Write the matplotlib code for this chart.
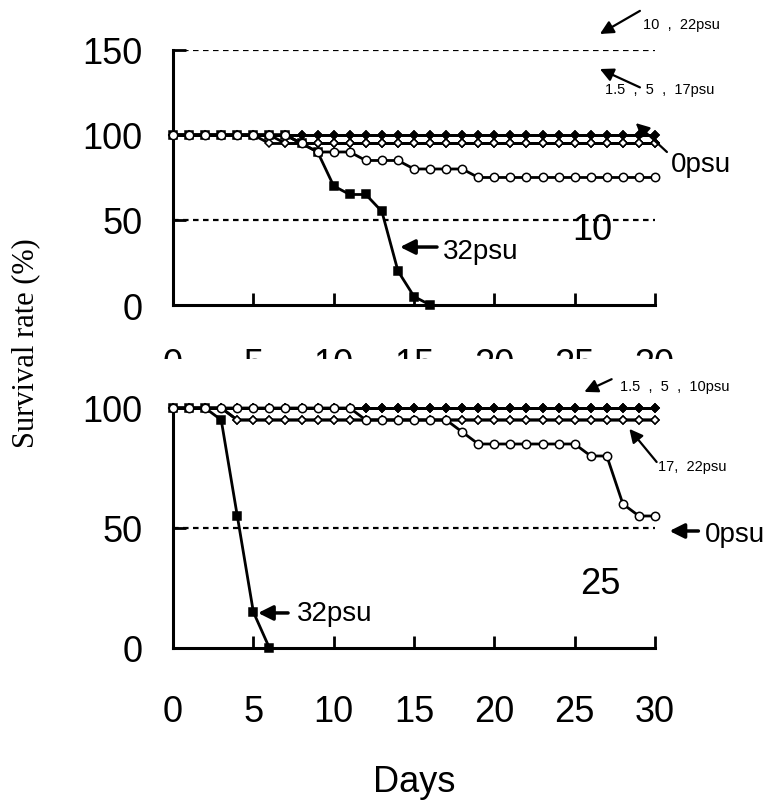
import matplotlib
matplotlib.use("Agg")
import matplotlib.pyplot as plt
from matplotlib.patches import Rectangle

# days of observation
days = list(range(31))

# 10 degC panel (survival %, one list per salinity)
top_0psu = [100, 100, 100, 100, 100, 100, 100, 100, 95, 90, 90, 90, 85, 85, 85,
            80, 80, 80, 80, 75, 75, 75, 75, 75, 75, 75, 75, 75, 75, 75, 75]
top_15psu = [100, 100, 100, 100, 100, 100, 95, 95, 95, 95, 95, 95, 95, 95, 95,
             95, 95, 95, 95, 95, 95, 95, 95, 95, 95, 95, 95, 95, 95, 95, 95]
top_5psu = [100, 100, 100, 100, 100, 100, 100, 95, 95, 95, 95, 95, 95, 95, 95,
            95, 95, 95, 95, 95, 95, 95, 95, 95, 95, 95, 95, 95, 95, 95, 95]
top_17psu = [100, 100, 100, 100, 100, 100, 100, 100, 95, 95, 95, 95, 95, 95, 95,
             95, 95, 95, 95, 95, 95, 95, 95, 95, 95, 95, 95, 95, 95, 95, 95]
top_10psu = [100, 100, 100, 100, 100, 100, 100, 100, 100, 100, 100, 100, 100, 100, 100,
             100, 100, 100, 100, 100, 100, 100, 100, 100, 100, 100, 100, 100, 100, 100, 100]
top_22psu = [100, 100, 100, 100, 100, 100, 100, 100, 100, 100, 100, 100, 100, 100, 100,
             100, 100, 100, 100, 100, 100, 100, 100, 100, 100, 100, 100, 100, 100, 100, 100]
top_32psu = [100, 100, 100, 100, 100, 100, 100, 100, 95, 90, 70, 65, 65, 55, 20, 5, 0]

# 25 degC panel
bot_0psu = [100, 100, 100, 100, 100, 100, 100, 100, 100, 100, 100, 100, 95, 95, 95,
            95, 95, 95, 90, 85, 85, 85, 85, 85, 85, 85, 80, 80, 60, 55, 55]
bot_15psu = [100, 100, 100, 100, 100, 100, 100, 100, 100, 100, 100, 100, 100, 100, 100,
             100, 100, 100, 100, 100, 100, 100, 100, 100, 100, 100, 100, 100, 100, 100, 100]
bot_5psu = bot_15psu
bot_10psu = bot_15psu
bot_17psu = [100, 100, 100, 100, 95, 95, 95, 95, 95, 95, 95, 95, 95, 95, 95,
             95, 95, 95, 95, 95, 95, 95, 95, 95, 95, 95, 95, 95, 95, 95, 95]
bot_22psu = bot_17psu
bot_32psu = [100, 100, 100, 95, 55, 15, 0]

SANS = ['Liberation Sans', 'DejaVu Sans']

fig = plt.figure(figsize=(7.68, 8.04), dpi=100)
ax1 = fig.add_axes([0.2253, 0.6194, 0.6276, 0.3172])
ax2 = fig.add_axes([0.2253, 0.1928, 0.6276, 0.2985])


def style(ax, ymax, yticks, xpad):
    ax.set_xlim(0, 30)
    ax.set_ylim(0, ymax)
    ax.set_xticks(range(0, 31, 5))
    ax.set_yticks(yticks)
    for s in ['top', 'right']:
        ax.spines[s].set_visible(False)
    for s in ['left', 'bottom']:
        ax.spines[s].set_linewidth(2.2)
    ax.tick_params(direction='in', length=9, width=2, labelsize=26)
    ax.tick_params(axis='y', pad=22)
    ax.tick_params(axis='x', pad=xpad)
    for lab in ax.get_xticklabels() + ax.get_yticklabels():
        lab.set_family(SANS)
    ax.patch.set_alpha(0)
    ax.axhline(50, color='black', lw=1.6, ls=(0, (2.5, 2)), zorder=1)


def curve(ax, y, kind):
    kinds = {
        'dfill': dict(marker='D', mfc='black', ms=4.5, zorder=2),
        'dopen': dict(marker='D', mfc='white', ms=4.5, zorder=3),
        'square': dict(marker='s', mfc='black', ms=5.5, zorder=4),
        'circle': dict(marker='o', mfc='white', ms=6, zorder=5),
    }
    ax.plot(days[:len(y)], y, color='black', lw=2, mec='black', mew=1.1,
            clip_on=False, **kinds[kind])


def arrow(ax, tail, head, lw=1.6, scale=20):
    ax.annotate('', xy=head, xytext=tail, annotation_clip=False,
                arrowprops=dict(arrowstyle='-|>', color='black', lw=lw,
                                mutation_scale=scale, shrinkA=0, shrinkB=0),
                zorder=8)


# ---- 10 degC ----
style(ax1, 150, [0, 50, 100, 150], 30)
ax1.axhline(150, color='black', lw=1.6, ls=(0, (2.5, 2)), zorder=1)
curve(ax1, top_10psu, 'dfill')
curve(ax1, top_22psu, 'dfill')
curve(ax1, top_15psu, 'dopen')
curve(ax1, top_5psu, 'dopen')
curve(ax1, top_17psu, 'dopen')
curve(ax1, top_32psu, 'square')
curve(ax1, top_0psu, 'circle')

arrow(ax1, (29.06, 173), (26.57, 159.4))
ax1.text(29.25, 165.5, '10  ,  22psu', family=SANS, size=10.5, va='center')
arrow(ax1, (29.06, 128), (26.57, 138.8))
ax1.text(26.9, 127, '1.5  ,  5  ,  17psu', family=SANS, size=10.5, va='center')
arrow(ax1, (30.74, 90), (28.8, 107))
ax1.text(31.0, 83, '0psu', family=SANS, size=20, va='center')
arrow(ax1, (16.43, 34.1), (14.13, 34.1), lw=2.5, scale=22)
ax1.text(16.8, 32, '32psu', family=SANS, size=20, va='center')
ax1.text(26.1, 44.7, '10', family=SANS, size=26, ha='center', va='center')

# ---- 25 degC ----
style(ax2, 100, [0, 50, 100], 33)
curve(ax2, bot_15psu, 'dfill')
curve(ax2, bot_5psu, 'dfill')
curve(ax2, bot_10psu, 'dfill')
curve(ax2, bot_17psu, 'dopen')
curve(ax2, bot_22psu, 'dopen')
curve(ax2, bot_32psu, 'square')
curve(ax2, bot_0psu, 'circle')

arrow(ax2, (27.3, 112), (25.6, 106.7))
ax2.text(27.8, 109.2, '1.5  ,  5  ,  10psu', family=SANS, size=10.5, va='center')
arrow(ax2, (30.1, 77.5), (28.4, 91.3))
ax2.text(30.2, 75.8, '17,  22psu', family=SANS, size=10.5, va='center')
arrow(ax2, (32.7, 48.75), (30.9, 48.75), lw=2.5, scale=22)
ax2.text(33.1, 47.3, '0psu', family=SANS, size=20, va='center')
arrow(ax2, (7.16, 14.6), (5.29, 14.6), lw=2.5, scale=22)
ax2.text(7.7, 14.6, '32psu', family=SANS, size=20, va='center')
ax2.text(26.6, 26.7, '25', family=SANS, size=26, ha='center', va='center')

# the lower panel sits over the top panel's day labels
ax2.set_zorder(1)
fig.add_artist(Rectangle((0, 0.5025), 1, 0.0497, transform=fig.transFigure,
                         facecolor='white', edgecolor='none', zorder=0.5))

fig.text(0.033, 1 - 343 / 804, 'Survival rate (%)', rotation=90,
         family=['Liberation Serif', 'DejaVu Serif'], size=22,
         ha='center', va='center')
fig.text(0.539, 1 - 783 / 804, 'Days', family=SANS, size=26,
         ha='center', va='center')

fig.savefig('out.png', dpi=100)
